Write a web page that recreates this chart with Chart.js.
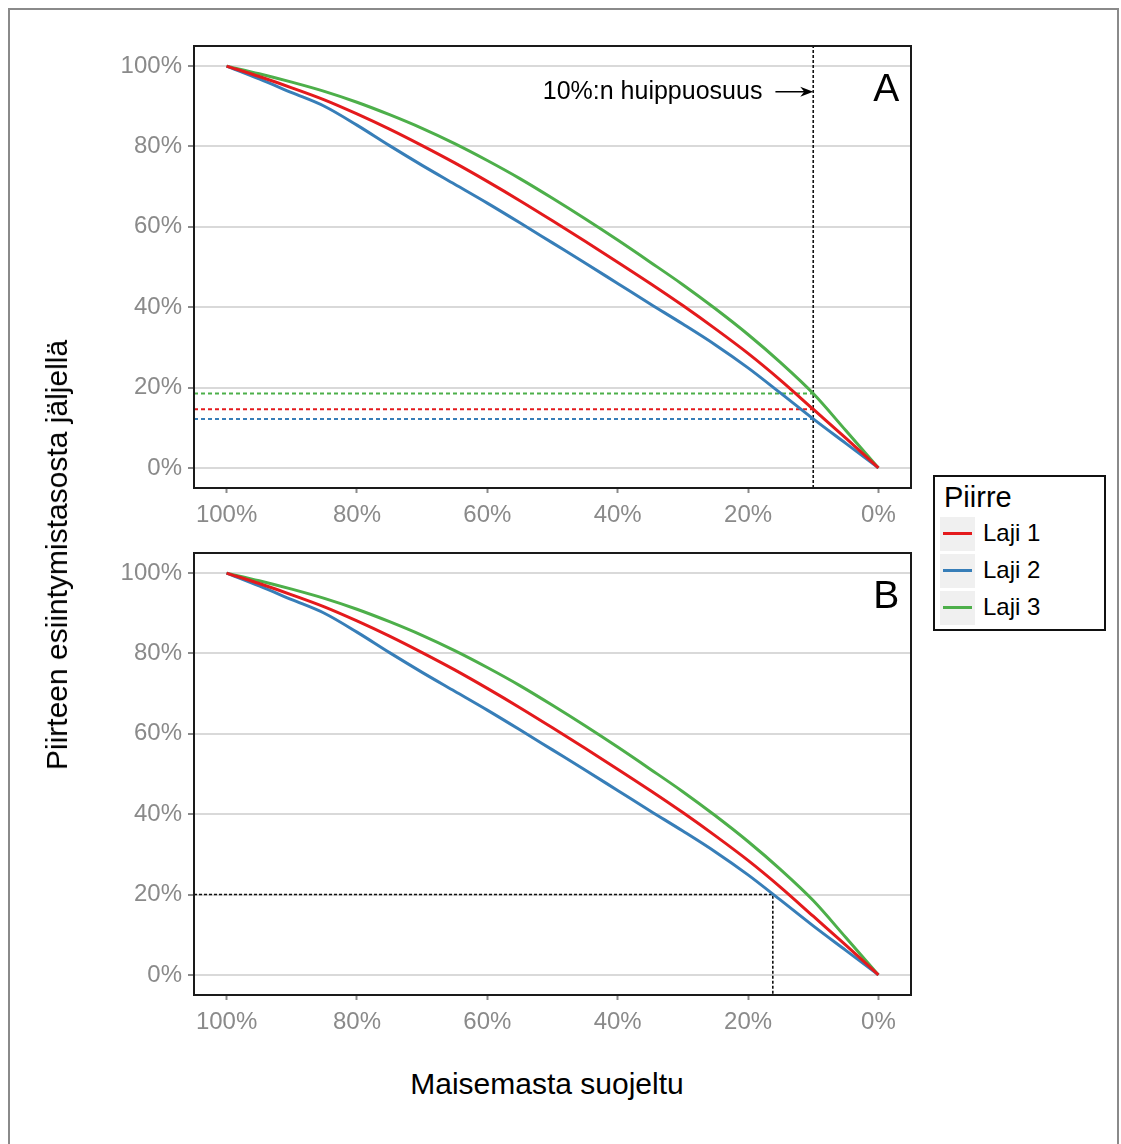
<!DOCTYPE html>
<html>
<head>
<meta charset="utf-8">
<title>Piirteen esiintymistaso</title>
<script src="https://cdn.jsdelivr.net/npm/chart.js@4.4.0/dist/chart.umd.min.js"></script>
<style>
  html, body { margin: 0; padding: 0; background: #fff; }
  body { width: 1121px; height: 1144px; position: relative; overflow: hidden;
         font-family: "Liberation Sans", Arial, Helvetica, sans-serif; }
  .frame { position: absolute; left: 8px; top: 8px; width: 1111px; height: 1200px;
           border: 2px solid #8a8a8a; box-sizing: border-box; }
  canvas.panel { position: absolute; left: 0; }
  .ytitle { position: absolute; left: 57px; top: 555px; white-space: nowrap;
            font-size: 30px; color: #000;
            transform: translate(-50%, -50%) rotate(-90deg); }
  .xtitle { position: absolute; left: 547px; top: 1084px; white-space: nowrap;
            font-size: 30px; color: #000; transform: translate(-50%, -50%); }
  .legend { position: absolute; left: 933px; top: 475px; width: 173px; height: 156px;
            border: 2px solid #111; box-sizing: border-box; background: #fff; }
  .legend .title { position: absolute; left: 9px; top: 4px; font-size: 29px; }
  .legend .row { position: absolute; left: 5px; height: 34px; }
  .legend .key { position: absolute; left: 0; top: 0; width: 35px; height: 34px; background: #f0f0f0; }
  .legend .key i { position: absolute; left: 3px; right: 3px; top: 15px; height: 3px; }
  .legend .lbl { position: absolute; left: 43px; top: 2px; font-size: 24px; white-space: nowrap; }
</style>
</head>
<body>
<div class="frame"></div>
<canvas id="panelA" class="panel" width="930" height="540" style="top:0"></canvas>
<canvas id="panelB" class="panel" width="930" height="540" style="top:507px"></canvas>
<div class="ytitle">Piirteen esiintymistasosta jäljellä</div>
<div class="xtitle">Maisemasta suojeltu</div>
<div class="legend" id="legend"><div class="title">Piirre</div></div>
<script>
  'use strict';

  // Share of the landscape protected (x), read from 100 % down to 0 %.
  var PROTECTED = [100, 95, 90, 85, 80, 75, 70, 65, 60, 55, 50, 45, 40, 35, 30, 25, 20, 15, 10, 5, 0];

  // Remaining share of each feature's occurrence level (y).
  var LAJI_1 = [100, 97.4, 94.6, 91.6, 88.1, 84.3, 80.2, 75.9, 71.3, 66.5, 61.5, 56.4, 51.2, 45.9, 40.4, 34.6, 28.5, 21.8, 14.6, 7.4, 0];
  var LAJI_2 = [100, 96.8, 93.4, 90.0, 85.3, 80.2, 75.3, 70.6, 65.9, 61.0, 56.0, 51.0, 45.9, 40.8, 35.8, 30.6, 24.9, 18.6, 12.2, 6.1, 0];
  var LAJI_3 = [100, 98.1, 96.0, 93.7, 91.0, 87.9, 84.5, 80.7, 76.5, 72.0, 67.1, 62.0, 56.7, 51.2, 45.6, 39.6, 33.2, 26.2, 18.5, 9.3, 0];

  var SERIES_NAMES = ['Laji 1', 'Laji 2', 'Laji 3'];
  var SERIES = [LAJI_1, LAJI_2, LAJI_3];
  var TICKS = [0, 20, 40, 60, 80, 100];

  // Panel A: top-fraction cut; panel B: target level and where it is met.
  var PEAK_SHARE = 10;
  var TARGET_LEVEL = 20;
  var TARGET_PROTECTED = 16.2;

  var COLORS = ['#e41a1c', '#377eb8', '#4daf4a'];
  var FONT = '"Liberation Sans", Arial, Helvetica, sans-serif';
  var TICK_GREY = '#8a8a8a';
  var AXIS_MIN = -5;
  var AXIS_MAX = 105;

  function points(ys) {
    return PROTECTED.map(function (x, i) { return { x: x, y: ys[i] }; });
  }

  function refLine(data, color, width, dash) {
    return {
      data: data,
      borderColor: color,
      borderWidth: width,
      borderDash: dash,
      pointRadius: 0,
      tension: 0,
      fill: false
    };
  }

  function curveSets() {
    return SERIES.map(function (ys, i) {
      return {
        label: SERIES_NAMES[i],
        data: points(ys),
        borderColor: COLORS[i],
        borderWidth: 3,
        pointRadius: 0,
        cubicInterpolationMode: 'monotone',
        fill: false
      };
    });
  }

  function fixedTicks(scale) {
    scale.ticks = TICKS.map(function (v) { return { value: v }; });
  }

  // Panel frame plus the free text (arrow note and panel letter).
  function panelDecor(letter, note) {
    return {
      id: 'panelDecor' + letter,
      afterDraw: function (chart) {
        var ctx = chart.ctx;
        var a = chart.chartArea;
        var sx = chart.scales.x;
        var sy = chart.scales.y;
        ctx.save();
        ctx.strokeStyle = '#1a1a1a';
        ctx.lineWidth = 2;
        ctx.strokeRect(a.left, a.top, a.right - a.left, a.bottom - a.top);

        ctx.fillStyle = '#000';
        ctx.font = '39px ' + FONT;
        ctx.textAlign = 'center';
        ctx.textBaseline = 'middle';
        ctx.fillText(letter, sx.getPixelForValue(-1.2), sy.getPixelForValue(94.0));

        if (note) {
          var ny = sy.getPixelForValue(note.y);
          ctx.font = '25px ' + FONT;
          ctx.textAlign = 'right';
          ctx.fillText(note.text, sx.getPixelForValue(note.textEnd), ny);
          var x0 = sx.getPixelForValue(note.arrowFrom);
          var x1 = sx.getPixelForValue(note.arrowTo);
          ctx.strokeStyle = '#000';
          ctx.lineWidth = 1.6;
          ctx.beginPath();
          ctx.moveTo(x0, ny);
          ctx.lineTo(x1 - 6, ny);
          ctx.stroke();
          ctx.beginPath();
          ctx.moveTo(x1, ny);
          ctx.lineTo(x1 - 13, ny - 5);
          ctx.lineTo(x1 - 9, ny);
          ctx.lineTo(x1 - 13, ny + 5);
          ctx.closePath();
          ctx.fill();
        }
        ctx.restore();
      }
    };
  }

  function makePanel(canvasId, extraSets, decor) {
    var ctx = document.getElementById(canvasId).getContext('2d');
    return new Chart(ctx, {
      type: 'line',
      data: { datasets: curveSets().concat(extraSets) },
      options: {
        responsive: false,
        animation: false,
        devicePixelRatio: 1,
        layout: { padding: { top: 46, right: 19, left: 0, bottom: 0 } },
        plugins: { legend: { display: false }, tooltip: { enabled: false } },
        scales: {
          x: {
            type: 'linear',
            reverse: true,
            min: AXIS_MIN,
            max: AXIS_MAX,
            afterBuildTicks: fixedTicks,
            afterFit: function (scale) { scale.height = 52; },
            border: { display: false },
            grid: {
              drawOnChartArea: false,
              drawTicks: true,
              tickLength: 5,
              tickWidth: 2,
              tickColor: TICK_GREY
            },
            ticks: {
              padding: 8,
              color: TICK_GREY,
              font: { family: FONT, size: 24 },
              maxRotation: 0,
              callback: function (v) { return v + '%'; }
            }
          },
          y: {
            type: 'linear',
            min: AXIS_MIN,
            max: AXIS_MAX,
            afterBuildTicks: fixedTicks,
            afterFit: function (scale) { scale.width = 194; },
            border: { display: false },
            grid: {
              color: '#d9d9d9',
              lineWidth: 2,
              drawTicks: true,
              tickLength: 6,
              tickWidth: 2,
              tickColor: TICK_GREY
            },
            ticks: {
              padding: 6,
              color: TICK_GREY,
              font: { family: FONT, size: 24 },
              callback: function (v) { return v + '%'; }
            }
          }
        }
      },
      plugins: [decor]
    });
  }

  // Panel A: level of each feature left when only the top 10 % is protected.
  var peakIdx = PROTECTED.indexOf(PEAK_SHARE);
  var setsA = SERIES.map(function (ys, i) {
    return refLine([{ x: AXIS_MAX, y: ys[peakIdx] }, { x: PEAK_SHARE, y: ys[peakIdx] }], COLORS[i], 2, [4, 3]);
  });
  setsA.push(refLine([{ x: PEAK_SHARE, y: AXIS_MIN }, { x: PEAK_SHARE, y: AXIS_MAX }], '#111', 1.6, [3, 2]));

  makePanel('panelA', setsA, panelDecor('A', {
    text: '10%:n huippuosuus',
    y: 93.6,
    textEnd: 17.8,
    arrowFrom: 15.8,
    arrowTo: PEAK_SHARE
  }));

  // Panel B: protected share needed to keep 20 % of every feature.
  var setsB = [
    refLine([{ x: AXIS_MAX, y: TARGET_LEVEL }, { x: TARGET_PROTECTED, y: TARGET_LEVEL }, { x: TARGET_PROTECTED, y: AXIS_MIN }], '#111', 1.6, [3, 2])
  ];
  makePanel('panelB', setsB, panelDecor('B', null));

  // Legend with grey key boxes.
  var legend = document.getElementById('legend');
  SERIES_NAMES.forEach(function (name, i) {
    var row = document.createElement('div');
    row.className = 'row';
    row.style.top = (40 + i * 37) + 'px';
    row.innerHTML = '<span class="key"><i style="background:' + COLORS[i] + '"></i></span>' +
      '<span class="lbl">' + name + '</span>';
    legend.appendChild(row);
  });
</script>
</body>
</html>
